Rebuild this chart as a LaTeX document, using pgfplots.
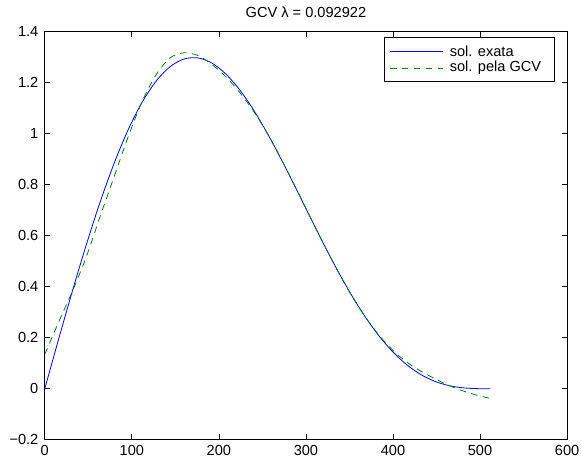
\documentclass[border=0pt]{standalone}
\usepackage{fontspec}
\setmainfont{Liberation Sans}
\usepackage{pgfplots}
\pgfplotsset{compat=1.18}
\definecolor{mblue}{rgb}{0,0,1}
\definecolor{mgreen}{rgb}{0,0.5,0}
\begin{document}
\fontsize{11pt}{13pt}\selectfont
\begin{tikzpicture}
\begin{axis}[
  scale only axis,
  width=393.75pt, height=307.5pt,
  xmin=0, xmax=600, ymin=-0.2, ymax=1.4,
  xtick={0,100,200,300,400,500,600},
  ytick={-0.2,0,0.2,0.4,0.6,0.8,1,1.2,1.4},
  yticklabels={−0.2,0,0.2,0.4,0.6,0.8,1,1.2,1.4},
  xticklabels={0,100,200,300,400,500,600},
  tick align=inside,
  major tick length=4pt,
  axis line style={line width=0.6pt},
  tick style={line width=0.5pt, black},
  ticklabel style={font=\fontsize{11pt}{13pt}\selectfont},
  yticklabel style={xshift=-1pt},
  title={GCV λ = 0.092922},
  title style={font=\fontsize{11pt}{13pt}\selectfont, yshift=1pt},
]
\addplot[mblue, line width=0.6pt, smooth] coordinates {
(0,0) (16,0.19557) (32,0.38643) (48,0.56807) (64,0.73623) (80,0.88713)
(96,1.01751) (112,1.12478) (128,1.20711) (144,1.26340) (160,1.29341)
(176,1.29765) (192,1.27743) (208,1.23473) (224,1.17213) (240,1.09273)
(256,1.0) (272,0.89763) (288,0.78945) (304,0.67915) (320,0.57033)
(336,0.46619) (352,0.36953) (368,0.28262) (384,0.20711) (400,0.14400)
(416,0.09363) (432,0.05567) (448,0.02913) (464,0.01249) (480,0.00375)
(496,0.00047) (512,0)
};
\addplot[mgreen, line width=0.6pt, smooth, dash pattern=on 5pt off 4pt] coordinates {
(0,0.135) (16,0.262) (32,0.385) (48,0.52) (64,0.68) (80,0.835)
(96,0.99) (112,1.128) (128,1.232) (144,1.298) (160,1.318)
(176,1.307) (192,1.272) (208,1.224) (224,1.162) (240,1.088)
(256,1.0) (272,0.899) (288,0.791) (304,0.680) (320,0.570)
(336,0.465) (352,0.368) (368,0.283) (384,0.210) (400,0.150)
(416,0.104) (432,0.069) (448,0.040) (464,0.013) (480,-0.008)
(496,-0.025) (512,-0.038)
};
\coordinate (lgNE) at (rel axis cs:0.975,0.987);
\end{axis}
% legend
\draw[line width=0.6pt, fill=white] (lgNE) rectangle ++(-128.25pt,-33pt);
\node[anchor=west, inner sep=0pt] at ([xshift=-78.75pt,yshift=-10.5pt]lgNE) {sol. exata};
\node[anchor=west, inner sep=0pt] at ([xshift=-78.75pt,yshift=-23.25pt]lgNE) {sol. pela GCV};
\draw[mgreen, line width=0.7pt, dash pattern=on 5pt off 4pt] ([xshift=-123.75pt,yshift=-23.25pt]lgNE) -- ++(39.75pt,0pt);
\begin{scope}
\pgfsetstrokecolor{mblue}
\pgfsetcolor{mblue}
\draw[mblue, line width=0.7pt] ([xshift=-123.75pt,yshift=-10.5pt]lgNE) -- ++(39.75pt,0pt);
\draw[mblue, line width=0.7pt] ([xshift=-123.75pt,yshift=-10.5pt]lgNE) -- ++(39.75pt,0pt);
\end{scope}
% bounding box matching the reference margins
\path (current axis.south west) ++(-33.75pt,-17.625pt) coordinate (bbA);
\path (current axis.north east) ++(10.5pt,24pt) coordinate (bbB);
\pgfresetboundingbox
\useasboundingbox (bbA) rectangle (bbB);
\end{tikzpicture}
\end{document}
